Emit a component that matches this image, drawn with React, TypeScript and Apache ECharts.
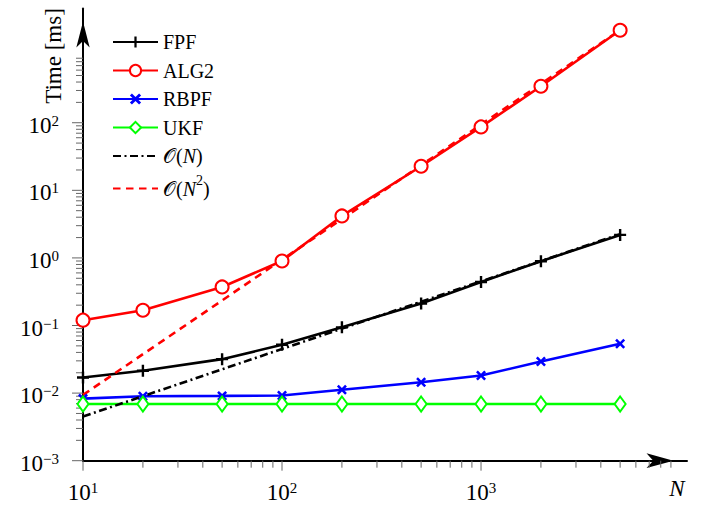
import React, { useEffect, useRef } from 'react';
import * as echarts from 'echarts';

// Problem sizes N and measured run times in milliseconds
const sizes = [10, 20, 50, 100, 200, 500, 1000, 2000, 5000];
const fpfTimes = [0.017, 0.0214, 0.0318, 0.0518, 0.094, 0.211, 0.44, 0.894, 2.19];
const alg2Times = [0.12, 0.168, 0.372, 0.9, 4.18, 22.7, 86.7, 347, 2335];
const rbpfTimes = [0.0083, 0.009, 0.0091, 0.0092, 0.0112, 0.0145, 0.0182, 0.0293, 0.0536];
const ukfTimes = [0.0069, 0.0069, 0.0069, 0.0069, 0.0069, 0.0069, 0.0069, 0.0069, 0.0069];

// Complexity reference slopes
const refSizes = [10, 5000];
const linearRef = [0.0045, 2.25];
const quadraticRef = [0.0094, 2350];

// Axis ranges, labelled decades and minor ticks
const xMin = 10;
const xMax = 10839;
const yMin = 0.001;
const yMax = 4898;
const xLabelValues = [10, 100, 1000];
const yLabelValues = [0.001, 0.01, 0.1, 1, 10, 100];
const xMinorValues = [
  20, 30, 40, 50, 60, 70, 80, 90,
  200, 300, 400, 500, 600, 700, 800, 900,
  2000, 3000, 4000, 5000, 6000, 7000, 8000, 9000,
];
const yMinorValues = [
  0.002, 0.003, 0.004, 0.005, 0.006, 0.007, 0.008, 0.009,
  0.02, 0.03, 0.04, 0.05, 0.06, 0.07, 0.08, 0.09,
  0.2, 0.3, 0.4, 0.5, 0.6, 0.7, 0.8, 0.9,
  2, 3, 4, 5, 6, 7, 8, 9,
  20, 30, 40, 50, 60, 70, 80, 90,
  200, 300, 400, 500, 600, 700, 800, 900,
];

const legendNames = ['FPF', 'ALG2', 'RBPF', 'UKF', 'O(N)', 'O(N^2)'];

const SERIF = '"Liberation Serif", "DejaVu Serif", serif';
const SCRIPT = '"DejaVu Sans", sans-serif';
const PLUS = 'path://M4.8,0H7.2V4.8H12V7.2H7.2V12H4.8V7.2H0V4.8H4.8Z';
const CROSS = 'path://M0,1.8L1.8,0L5,3.2L8.2,0L10,1.8L6.8,5L10,8.2L8.2,10L5,6.8L1.8,10L0,8.2L3.2,5Z';
const NO_FILL = 'rgba(0,0,0,0)';
const LINE_W = 2.6;

function isIn(value: number, list: number[]) {
  return list.some((v) => Math.abs(Math.log10(v) - Math.log10(value)) < 1e-6);
}

function powerLabel(value: number) {
  const e = Math.round(Math.log10(value));
  return `{b|10}{s|${e < 0 ? '\u2212' : ''}${Math.abs(e)}}`;
}

const labelRich = {
  b: { fontFamily: SERIF, fontSize: 23, lineHeight: 24, color: '#000' },
  s: { fontFamily: SERIF, fontSize: 15, lineHeight: 14, verticalAlign: 'top', color: '#000' },
};

function tickSeries(dir: 'x' | 'y', values: number[], len: number) {
  return {
    type: 'custom',
    silent: true,
    clip: false,
    z: 1,
    data: values.map((v) => (dir === 'x' ? [v, yMin] : [xMin, v])),
    renderItem: (_params: any, api: any) => {
      const p = api.coord([api.value(0), api.value(1)]);
      const shape =
        dir === 'x'
          ? { x1: p[0], y1: p[1], x2: p[0], y2: p[1] + len }
          : { x1: p[0], y1: p[1], x2: p[0] - len, y2: p[1] };
      return { type: 'line', shape, style: { stroke: '#666', lineWidth: 1 } };
    },
  };
}

function pairs(xs: number[], ys: number[]) {
  return xs.map((x, i) => [x, ys[i]]);
}

export default function App() {
  const ref = useRef<HTMLDivElement>(null);

  useEffect(() => {
    if (!ref.current) return;
    const chart = echarts.init(ref.current, undefined, { renderer: 'svg' });

    const option: any = {
      animation: false,
      backgroundColor: '#fff',
      grid: { left: 83, right: 28, top: 8.5, bottom: 45.3, outerBoundsMode: 'none' },
      xAxis: {
        type: 'log',
        logBase: 10,
        min: xMin,
        max: xMax,
        axisLine: {
          show: true,
          onZero: false,
          lineStyle: { color: '#000', width: 2 },
          symbol: ['none', 'arrow'],
          symbolSize: [11, 27],
          symbolOffset: [0, -13.5],
        },
        axisTick: { show: false },
        minorTick: { show: false },
        splitLine: { show: false },
        axisLabel: {
          margin: 20,
          formatter: (v: number) => (isIn(v, xLabelValues) ? powerLabel(v) : ''),
          rich: labelRich,
        },
      },
      yAxis: {
        type: 'log',
        logBase: 10,
        min: yMin,
        max: yMax,
        axisLine: {
          show: true,
          onZero: false,
          lineStyle: { color: '#000', width: 2 },
          symbol: ['none', 'arrow'],
          symbolSize: [10, 26],
          symbolOffset: [0, -13],
        },
        axisTick: { show: false },
        minorTick: { show: false },
        splitLine: { show: false },
        axisLabel: {
          margin: 24,
          padding: [5, 0, 0, 0],
          formatter: (v: number) => (isIn(v, yLabelValues) ? powerLabel(v) : ''),
          rich: labelRich,
        },
      },
      legend: {
        data: legendNames,
        orient: 'vertical',
        left: 112,
        top: 31,
        padding: 0,
        itemWidth: 45,
        itemHeight: 14,
        itemGap: 6.5,
        selectedMode: false,
        textStyle: {
          fontFamily: SERIF,
          fontSize: 20,
          lineHeight: 22,
          color: '#000',
          rich: {
            c: { fontFamily: SCRIPT, fontSize: 20, lineHeight: 22, color: '#000' },
            p: { fontFamily: SERIF, fontSize: 20, lineHeight: 22, color: '#000' },
            i: { fontFamily: SERIF, fontStyle: 'italic', fontSize: 20, lineHeight: 22, color: '#000' },
            c2: { fontFamily: SCRIPT, fontSize: 20, lineHeight: 30, color: '#000' },
            p2: { fontFamily: SERIF, fontSize: 20, lineHeight: 30, color: '#000' },
            i2: { fontFamily: SERIF, fontStyle: 'italic', fontSize: 20, lineHeight: 30, color: '#000' },
            s: { fontFamily: SERIF, fontSize: 14, lineHeight: 16, verticalAlign: 'top', color: '#000' },
          },
        },
        formatter: (name: string) => {
          if (name === 'O(N)') return '{c|\u{1D4AA}}{p|(}{i|N}{p|)}';
          if (name === 'O(N^2)') return '{c2|\u{1D4AA}}{p2|(}{i2|N}{s|2}{p2|)}';
          return name;
        },
      },
      graphic: [
        {
          type: 'text',
          x: 53,
          y: 56,
          rotation: Math.PI / 2,
          style: {
            text: 'Time [ms]',
            fontFamily: SERIF,
            fontSize: 23,
            fill: '#000',
            align: 'center',
            verticalAlign: 'middle',
          },
        },
        {
          type: 'text',
          x: 677,
          y: 488,
          style: {
            text: 'N',
            fontFamily: SERIF,
            fontStyle: 'italic',
            fontSize: 23,
            fill: '#000',
            align: 'center',
            verticalAlign: 'middle',
          },
        },
      ],
      series: [
        tickSeries('x', xLabelValues, 10),
        tickSeries('x', xMinorValues, 7),
        tickSeries('y', yLabelValues, 11),
        tickSeries('y', yMinorValues, 7),
        {
          name: 'FPF',
          type: 'line',
          clip: false,
          data: pairs(sizes, fpfTimes),
          symbol: PLUS,
          symbolSize: 12,
          itemStyle: { color: '#000' },
          lineStyle: { color: '#000', width: LINE_W },
        },
        {
          name: 'ALG2',
          type: 'line',
          clip: false,
          data: pairs(sizes, alg2Times),
          symbol: 'emptyCircle',
          symbolSize: 13,
          itemStyle: { color: '#ff0000', borderWidth: 2.2 },
          lineStyle: { color: '#ff0000', width: LINE_W },
        },
        {
          name: 'RBPF',
          type: 'line',
          clip: false,
          data: pairs(sizes, rbpfTimes),
          symbol: CROSS,
          symbolSize: 10,
          itemStyle: { color: '#0000ff' },
          lineStyle: { color: '#0000ff', width: LINE_W },
        },
        {
          name: 'UKF',
          type: 'line',
          clip: false,
          data: pairs(sizes, ukfTimes),
          symbol: 'emptyDiamond',
          symbolSize: [11, 15],
          itemStyle: { color: '#00ff00', borderWidth: 2.2 },
          lineStyle: { color: '#00ff00', width: LINE_W },
        },
        {
          name: 'O(N)',
          type: 'line',
          clip: false,
          data: pairs(refSizes, linearRef),
          symbol: 'none',
          lineStyle: { color: '#000', width: LINE_W, type: [8, 3.5, 2, 3.5] },
          itemStyle: { color: NO_FILL },
        },
        {
          name: 'O(N^2)',
          type: 'line',
          clip: false,
          data: pairs(refSizes, quadraticRef),
          symbol: 'none',
          lineStyle: { color: '#ff0000', width: LINE_W, type: [7.5, 5.5] },
          itemStyle: { color: NO_FILL },
        },
      ],
    };

    chart.setOption(option);
    return () => chart.dispose();
  }, []);

  return (
    <div
      ref={ref}
      style={{ position: 'absolute', left: 0, top: 0, width: 715, height: 506 }}
    />
  );
}
